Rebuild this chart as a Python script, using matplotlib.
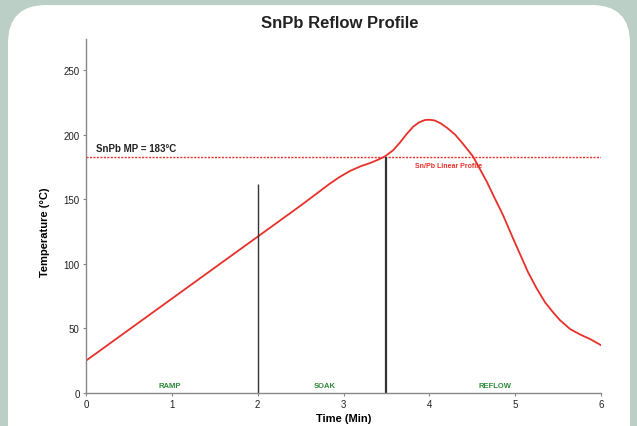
import matplotlib
matplotlib.use("Agg")
import matplotlib.pyplot as plt
from matplotlib.patches import FancyBboxPatch

# profile
time_min = [0.0, 1.0, 2.0, 2.5, 2.84, 2.95, 3.08, 3.2, 3.31, 3.4, 3.48, 3.58, 3.66,
            3.73, 3.81, 3.88, 3.95, 4.0, 4.06, 4.13, 4.2, 4.3, 4.39, 4.51, 4.6,
            4.67, 4.76, 4.86, 4.96, 5.06, 5.15, 5.25, 5.35, 5.44, 5.52, 5.64,
            5.75, 5.88, 6.0]
temp_c = [25, 73, 121, 145, 162, 167, 172, 175.5, 178, 180.5, 183, 188, 194,
          200, 206, 209.5, 211.3, 211.5, 211, 208.8, 205.6, 200, 193, 183, 172,
          163.5, 151, 137.5, 122, 107, 93.5, 81, 70, 62.6, 56.5, 49.5, 45.5, 41.5, 37]

melt_point = 183
phase_names = ["RAMP", "SOAK", "REFLOW"]
phase_pos = [0.98, 2.78, 4.76]
phase_bounds = [2.0, 3.5]
bound_tops = [162, 183]

FONT = ["Liberation Sans Narrow", "Liberation Sans", "DejaVu Sans"]
plt.rcParams["font.family"] = FONT

fig = plt.figure(figsize=(6.37, 4.27), dpi=100)
fig.patch.set_facecolor("#bccfc7")
panel = FancyBboxPatch((8 / 637, -0.2), 622 / 637, 1.2 - 6 / 427,
                       boxstyle="round,pad=0,rounding_size=0.06",
                       transform=fig.transFigure, facecolor="white",
                       edgecolor="none", mutation_aspect=637 / 427, zorder=-5)
fig.patches.append(panel)

ax = fig.add_axes([86 / 637, 1 - 394 / 427, 515 / 637, 354 / 427])
ax.set_facecolor("none")
ax.set_xlim(0, 6)
ax.set_ylim(0, 274)

ax.plot(time_min, temp_c, color="#e8302a", lw=1.3)
ax.axhline(melt_point, color="#e8302a", lw=1.0, ls=(0, (1.5, 1)))
ax.vlines(phase_bounds[0], 0, bound_tops[0], color="#333333", lw=1.0)
ax.vlines(phase_bounds[1], 0, bound_tops[1], color="#333333", lw=1.6)

ax.text(0.12, melt_point + 3, "SnPb MP = 183\u00b0C", fontsize=7,
        fontweight="bold", color="#222222", va="bottom")
ax.text(3.83, melt_point - 4, "Sn/Pb Linear Profile", fontsize=5,
        fontweight="bold", color="#e8302a", va="top")
for name, pos in zip(phase_names, phase_pos):
    ax.text(pos, 6, name, fontsize=5.5, fontweight="bold", color="#2e8b3a",
            ha="center", va="center")

for side in ("top", "right"):
    ax.spines[side].set_visible(False)
for side in ("left", "bottom"):
    ax.spines[side].set_color("#888888")
    ax.spines[side].set_linewidth(1.0)
ax.set_xticks(range(7))
ax.set_yticks(range(0, 251, 50))
ax.tick_params(colors="#888888", labelcolor="#222222", labelsize=7,
               length=2.5, width=0.8, pad=2)

ax.set_xlabel("Time (Min)", fontsize=8, fontweight="bold", labelpad=3)
ax.set_ylabel("Temperature (\u00b0C)", fontsize=8, fontweight="bold")
ax.yaxis.set_label_coords(-0.07, 0.458)
fig.text(340 / 637, 1 - 24 / 427, "SnPb Reflow Profile", fontsize=12,
         fontweight="bold", color="#222222", ha="center", va="center")

fig.savefig("out.png", dpi=100)
